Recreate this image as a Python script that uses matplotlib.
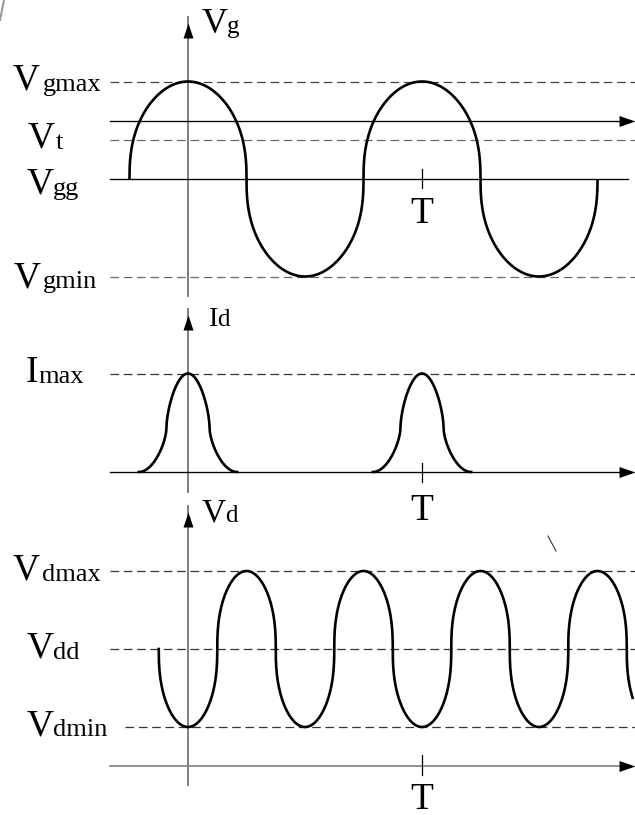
import numpy as np
import matplotlib
matplotlib.use("Agg")
import matplotlib.pyplot as plt
import matplotlib.transforms as mtransforms
from matplotlib.path import Path
from matplotlib.lines import Line2D

plt.rcParams["font.family"] = ["Liberation Serif", "DejaVu Serif"]
plt.rcParams["lines.scale_dashes"] = False

# ---------------- data (time in periods T, levels in panel units) ----------------
period = 1.0

# gate voltage panel
vg_names = ["gmax", "t", "gg", "gmin"]
vg_levels = [1.0, 0.4, 0.0, -1.0]
vg_time_axis = 0.6
vg_span = [-0.25, 1.75]

# drain current panel
id_names = ["max"]
id_levels = [1.0]
pulse_centres = [0.0, 1.0]
pulse_half_base = 0.21     # half width of the conduction pulse (periods)
pulse_knee = 0.092         # where the flank is steepest (periods)
pulse_knee_level = 0.45    # current at the steepest point (fraction of Imax)

# drain voltage panel
vd_names = ["dmax", "dd", "dmin"]
vd_levels = [2.5, 1.5, 0.5]
vd_span = [-0.125, 1.9]

shape_exp = 0.4            # flattening exponent of the drive waveforms
pulse_exp = 0.6

tick_labels = ["T", "T", "T"]

# ---------------- layout ----------------
W, H = 635, 815
X0, TPX = 188.0, 234.0     # pixel of t=0 and pixels per period
XL = 110.0                 # left end of the horizontal guide lines


def px_t(x):
    return (x - X0) / TPX


fig = plt.figure(figsize=(W / 100, H / 100), dpi=100)
pix = mtransforms.Affine2D().scale(1 / W, -1 / H).translate(0, 1) + fig.transFigure


def panel(top, bottom, zero_px, scale):
    ax = fig.add_axes([0, (H - bottom) / H, 1, (bottom - top) / H])
    ax.set_xlim(px_t(0), px_t(W))
    ax.set_ylim((zero_px - bottom) / scale, (zero_px - top) / scale)
    ax.axis("off")
    ax.patch.set_alpha(0)
    return ax, (lambda y: (zero_px - y) / scale)


def spow(u, p):
    return np.sign(u) * np.abs(u) ** p


up_head = Path([(0, 0), (-5, -15), (5, -15), (0, 0)],
               [Path.MOVETO, Path.LINETO, Path.LINETO, Path.CLOSEPOLY])
right_head = Path([(0, 0), (-16, 5.5), (-16, -5.5), (0, 0)],
                  [Path.MOVETO, Path.LINETO, Path.LINETO, Path.CLOSEPOLY])

CURVE_LW = 1.9
THIN_LW = 0.95
AXIS_GRAY = "#7f7f7f"
DASH = (0, (6.2, 3.4))


def vaxis(ax, py, y_bot, y_tip):
    ax.plot([0, 0], [py(y_bot), py(y_tip - 6)], color=AXIS_GRAY, lw=1.4, clip_on=False)
    ax.plot([0], [py(y_tip)], marker=up_head, ms=21.6, color="black",
            mew=0, clip_on=False)


def haxis(ax, v, color="black", lw=THIN_LW):
    ax.plot([px_t(XL), px_t(W - 6)], [v, v], color=color, lw=lw, clip_on=False)
    ax.plot([px_t(W)], [v], marker=right_head, ms=23, color="black", mew=0,
            clip_on=False)


def tick(ax, py, y0, y1):
    ax.plot([period, period], [py(y0), py(y1)], color="black", lw=0.9)


def dashed(ax, v, x_start=XL, color="#444444"):
    ax.plot([px_t(x_start), px_t(W)], [v, v], color=color, lw=0.9, ls=DASH)


def label(x, y, main, sub, main_size=27, sub_size=19, sub_dx=None, sub_dy=1):
    fig.text(x, y, main, transform=pix, fontsize=main_size,
             ha="left", va="baseline")
    if sub:
        fig.text(sub_dx, y + sub_dy, sub, transform=pix, fontsize=sub_size,
                 ha="left", va="baseline")


# ---------------- gate voltage ----------------
ax1, py1 = panel(0, 300, 179, 97.5)
vaxis(ax1, py1, 296, 23)
dashed(ax1, vg_levels[0], color="#444444")
dashed(ax1, vg_levels[1], color="#6a6a6a")
dashed(ax1, vg_levels[3], color="#6a6a6a")
haxis(ax1, vg_time_axis)
ax1.plot([px_t(XL), px_t(628)], [vg_levels[2]] * 2, color="black", lw=THIN_LW)
tick(ax1, py1, 169, 188)

t = np.linspace(vg_span[0], vg_span[1], 6001)
vg = vg_levels[2] + (vg_levels[0] - vg_levels[2]) * spow(np.cos(2 * np.pi * t / period), shape_exp)
ax1.plot(t, vg, color="black", lw=CURVE_LW, solid_capstyle="butt")

# ---------------- drain current ----------------
ax2, py2 = panel(300, 505, 472, 98.5)
vaxis(ax2, py2, 492, 315)
dashed(ax2, id_levels[0], color="#333333")
haxis(ax2, 0.0)
tick(ax2, py2, 463, 482)


def pulse(dt):
    a = np.abs(dt)
    out = np.zeros_like(a)
    up = a <= pulse_knee
    out[up] = pulse_knee_level + (1 - pulse_knee_level) * np.cos(
        np.pi / 2 * a[up] / pulse_knee) ** pulse_exp
    lo = (a > pulse_knee) & (a < pulse_half_base)
    s = (a[lo] - pulse_knee) / (pulse_half_base - pulse_knee)
    out[lo] = pulse_knee_level * (1 - np.sin(np.pi / 2 * s) ** pulse_exp)
    return out


for c in pulse_centres:
    tt = np.linspace(c - pulse_half_base, c + pulse_half_base, 3001)
    ax2.plot(tt, id_levels[0] * pulse(tt - c), color="black", lw=CURVE_LW)

# ---------------- drain voltage ----------------
ax3, py3 = panel(505, 815, 766, 78.0)
vaxis(ax3, py3, 785, 512)
dashed(ax3, vd_levels[0], color="#333333")
dashed(ax3, vd_levels[1], color="#333333")
dashed(ax3, vd_levels[2], x_start=125, color="#333333")
haxis(ax3, 0.0, color=AXIS_GRAY, lw=1.2)
tick(ax3, py3, 755, 775)

t = np.linspace(vd_span[0], vd_span[1], 8001)
vd = vd_levels[1] - (vd_levels[0] - vd_levels[1]) * spow(np.cos(4 * np.pi * t / period), shape_exp)
ax3.plot(t, vd, color="black", lw=CURVE_LW)

# ---------------- text ----------------
label(202, 33, "V", "g", main_size=26, sub_size=18, sub_dx=227, sub_dy=0)
label(13, 90, "V", vg_names[0], sub_dx=43)
label(28, 148, "V", vg_names[1], sub_dx=56)
label(27, 194, "V", vg_names[2], sub_dx=53)
label(14, 287, "V", vg_names[3], sub_dx=43)

label(209, 326, "I", "d", main_size=20, sub_size=18, sub_dx=217, sub_dy=0)
label(26, 382, "I", id_names[0], sub_dx=38)

label(202, 522, "V", "d", main_size=24, sub_size=18, sub_dx=225, sub_dy=0)
label(13, 580, "V", vd_names[0], sub_dx=42)
label(27, 658, "V", vd_names[1], sub_dx=53)
label(27, 735, "V", vd_names[2], sub_dx=53)

for y, s in zip([223, 520, 809], tick_labels):
    fig.text(X0 + TPX * period, y, s, transform=pix, fontsize=27,
             ha="center", va="baseline")

# small stray strokes on the sheet
fig.add_artist(Line2D([548, 556], [536, 551], transform=pix, color="#333333", lw=0.8))
fig.add_artist(Line2D([4, 0], [0, 20], transform=pix, color="#999999", lw=1.5))

fig.savefig("out.png", dpi=100)
